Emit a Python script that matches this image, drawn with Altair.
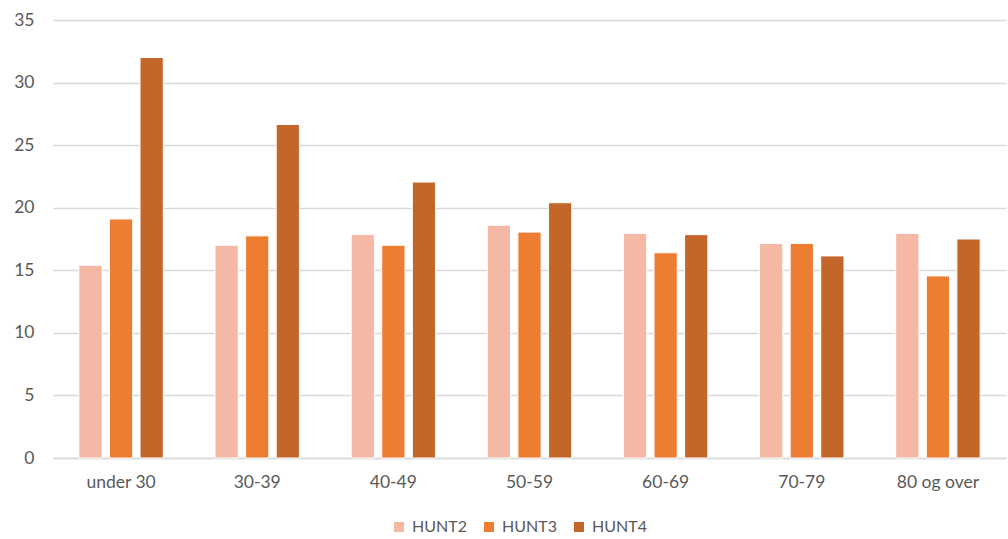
import altair as alt
import pandas as pd

categories = ["under 30", "30-39", "40-49", "50-59", "60-69", "70-79", "80 og over"]
series = ["HUNT2", "HUNT3", "HUNT4"]
hunt2 = [15.4, 17.0, 17.85, 18.6, 17.95, 17.15, 17.95]
hunt3 = [19.1, 17.75, 17.0, 18.05, 16.4, 17.15, 14.55]
hunt4 = [32.0, 26.65, 22.05, 20.4, 17.85, 16.15, 17.5]
colors = ["#F4B8A4", "#ED7D31", "#C4662A"]

rows = []
for s, vals in zip(series, [hunt2, hunt3, hunt4]):
    for c, v in zip(categories, vals):
        rows.append({"age": c, "serie": s, "value": v})
df = pd.DataFrame(rows)

font = "Lato"
fs = 17.5
chart = alt.Chart(df).mark_bar(stroke="white", strokeWidth=1).encode(
    x=alt.X("age:N", sort=categories, title=None,
            scale=alt.Scale(paddingInner=0.38, paddingOuter=0.19),
            axis=alt.Axis(labelAngle=0, labelFontSize=fs, labelColor="#595959", labelFont=font,
                          ticks=False, domainColor="#D9D9D9", domainWidth=1.5, labelPadding=15)),
    xOffset=alt.XOffset("serie:N", sort=series, scale=alt.Scale(paddingInner=0.24)),
    y=alt.Y("value:Q", title=None,
            scale=alt.Scale(domain=[0, 35], nice=False),
            axis=alt.Axis(values=[0, 5, 10, 15, 20, 25, 30, 35], labelFontSize=fs, labelColor="#595959",
                          labelFont=font, ticks=False, domain=False, gridColor="#D9D9D9", gridWidth=1.5,
                          labelPadding=19)),
    color=alt.Color("serie:N", sort=series, scale=alt.Scale(domain=series, range=colors),
                    legend=alt.Legend(title=None, orient="none", direction="horizontal",
                                      legendX=338, legendY=499, symbolType="square", symbolSize=100,
                                      symbolStrokeWidth=0, labelFontSize=16, labelColor="#595959",
                                      labelFont=font, columnPadding=14, labelOffset=5)),
).properties(
    width=953, height=438,
    padding={"left": 53, "top": 20, "right": 2, "bottom": 81},
    autosize=alt.AutoSizeParams(type="none"),
).configure_view(stroke=None)

chart.save("out.html", embed_options={"renderer": "svg", "actions": False})
